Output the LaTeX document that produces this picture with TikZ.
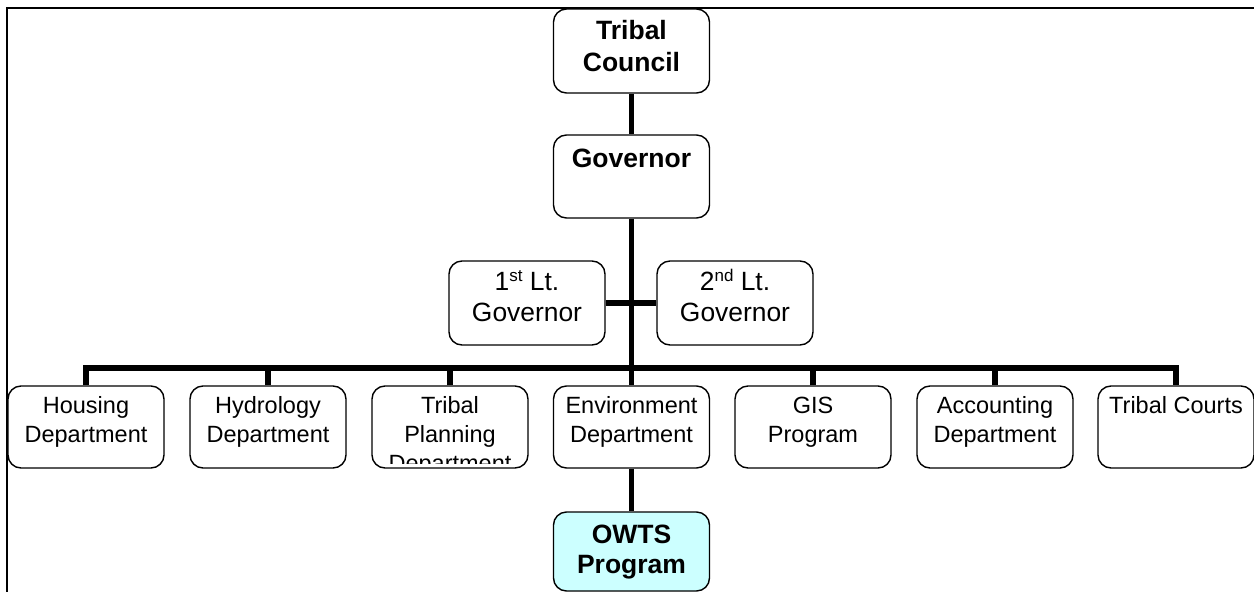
\documentclass[tikz,border=0pt]{standalone}
\usepackage{fontspec}
\setmainfont{Liberation Sans}
\definecolor{owtsfill}{HTML}{CCFFFF}
\begin{document}
\begin{tikzpicture}[x=1pt,y=-1pt,
  box/.style={draw, line width=1.4pt, rounded corners=13pt, minimum width=156pt, minimum height=83pt, inner sep=0pt, fill=white},
  conn/.style={line width=5.8pt, line join=miter},
  bt/.style={anchor=base, inner sep=0pt, font=\bfseries\fontsize{26.5}{30}\selectfont},
  lt/.style={anchor=base, inner sep=0pt, font=\fontsize{26.4}{30}\selectfont},
  dt/.style={anchor=base, inner sep=0pt, font=\fontsize{23.5}{28}\selectfont},
  frameline/.style={line width=2pt}]
\useasboundingbox (0,0) rectangle (1254,592);

% outer frame (top and left only)
\coordinate (fbl) at (6.5,593);
\coordinate (ftl) at (6.5,8);
\coordinate (ftr) at (1255,8);
\draw[frameline] (fbl) -- (ftl) -- (ftr);

% boxes
\node[box, minimum height=84pt] (tc) at (631.5,51) {};
\node[box] (gov) at (631.5,176.5) {};
\node[box, minimum height=84pt] (lt1) at (527,303) {};
\node[box, minimum height=84pt] (lt2) at (735,303) {};
\node[box, minimum height=82pt] (hous) at (86,427) {};
\node[box, minimum height=82pt] (hydro) at (268,427) {};
\node[box, minimum height=82pt] (plan) at (450,427) {};
\node[box, minimum height=82pt] (env) at (631.5,427) {};
\node[box, minimum height=82pt] (gis) at (813,427) {};
\node[box, minimum height=82pt] (acct) at (995,427) {};
\node[box, minimum height=82pt] (court) at (1176,427) {};
\node[box, minimum height=79pt, fill=owtsfill] (owts) at (631.5,551.5) {};

% connectors
\coordinate (bus) at (631.5,368);
\draw[conn] (tc.south) -- (gov.north);
\draw[conn] (gov.south) -- (env.north);
\draw[conn] (lt1.east) -- (lt2.west);
\draw[conn] (hous.north) |- (bus) -| (court.north);
\draw[conn] (hydro.north) -- (hydro.north |- bus);
\draw[conn] (plan.north) -- (plan.north |- bus);
\draw[conn] (gis.north) -- (gis.north |- bus);
\draw[conn] (acct.north) -- (acct.north |- bus);
\draw[conn] (env.south) -- (owts.north);

% texts
\node[bt] (tc1) at (631.5,39.3) {Tribal};
\node[bt] (tc2) at (631.5,71.7) {Council};
\node[bt] (gov1) at (631.5,167) {Governor};
\node[lt] (lt1a) at (527,290) {1\raisebox{8.7pt}{\fontsize{17}{17}\selectfont st} Lt.};
\node[lt] (lt1b) at (527,321) {Governor};
\node[lt] (lt2a) at (735,290) {2\raisebox{8.7pt}{\fontsize{17}{17}\selectfont nd} Lt.};
\node[lt] (lt2b) at (735,321) {Governor};
\node[dt] (hous1) at (86,413.5) {Housing};
\node[dt] (hous2) at (86,442) {Department};
\node[dt] (hydro1) at (268,413.5) {Hydrology};
\node[dt] (hydro2) at (268,442) {Department};
\begin{scope}
  \clip (360,380) rectangle (540,463);
  \node[dt] (plan1) at (450,413.5) {Tribal};
  \node[dt] (plan2) at (450,442) {Planning};
  \node[dt] (plan3) at (450,471) {Department};
\end{scope}
\node[dt] (env1) at (631.5,413.5) {Environment};
\node[dt] (env2) at (631.5,442) {Department};
\node[dt] (gis1) at (813,413.5) {GIS};
\node[dt] (gis2) at (813,442) {Program};
\node[dt] (acct1) at (995,413.5) {Accounting};
\node[dt] (acct2) at (995,442) {Department};
\node[dt] (court1) at (1176,413.5) {Tribal Courts};
\node[bt] (owts1) at (631.5,543) {OWTS};
\node[bt] (owts2) at (631.5,573) {Program};
\end{tikzpicture}
\end{document}
